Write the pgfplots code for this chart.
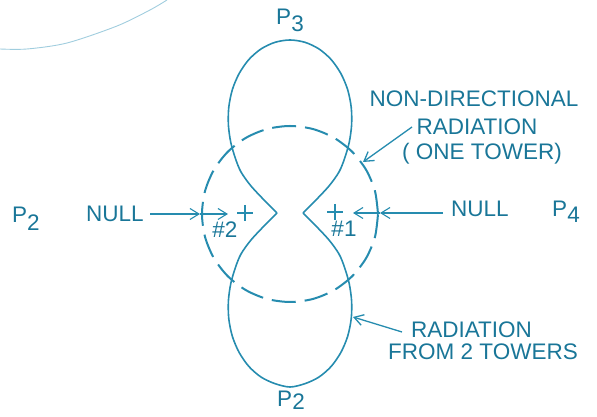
\documentclass[border=0pt]{standalone}
\usepackage{pgfplots}
\pgfplotsset{compat=1.18}
\usetikzlibrary{arrows.meta}
\usepackage{fontspec}
\setmainfont{Liberation Sans}
\definecolor{ln}{RGB}{38,140,175}
\definecolor{tx}{RGB}{25,118,152}
\definecolor{faint}{RGB}{160,205,222}
\tikzset{lbl/.style={text=tx, anchor=base, inner sep=0pt, font=\fontsize{22.5}{24}\selectfont}}
\begin{document}
\begin{tikzpicture}
\begin{axis}[scale only axis, width=597pt, height=417pt,
  xmin=-290, xmax=307, ymin=-204, ymax=213, hide axis, clip=false]
\coordinate (bl) at (axis cs:-290,-204);
\coordinate (tr) at (axis cs:307,213);
% faint arc top-left
\addplot[faint, line width=0.9pt, smooth] coordinates {(-290,164) (-263,164) (-223,170) (-173,187) (-140,203) (-123,213)};
% dashed circle: non-directional radiation
\addplot[ln, line width=2pt, smooth, dash pattern=on 24pt off 9pt] coordinates {
(88,-1) (85,21.8) (76.2,43) (62.2,61.2) (44,75.2) (22.8,84) (0,87) (-22.8,84) (-44,75.2) (-62.2,61.2) (-76.2,43) (-85,21.8) (-88,-1) (-85,-23.8) (-76.2,-45) (-62.2,-63.2) (-44,-77.2) (-22.8,-86) (0,-89) (22.8,-86) (44,-77.2) (62.2,-63.2) (76.2,-45) (85,-23.8) (88,-1)};
% upper lobe
\addplot[ln, line width=1.6pt, smooth] coordinates {
(13,0) (25,12) (39,27) (49,41) (54.5,54.3) (59.2,70.5) (61.6,88) (61.2,105.9) (57.6,123.5) (50.8,139.6) (41.1,153.5) (28.9,164.1) (14.9,170.7) (0,173)
(-14.9,170.7) (-28.9,164.1) (-41.1,153.5) (-50.8,139.6) (-57.6,123.5) (-61.2,105.9) (-61.6,88) (-59.2,70.5) (-54.5,54.3) (-49,41) (-39,27) (-25,12) (-13,0)};
% lower lobe
\addplot[ln, line width=1.6pt, smooth] coordinates {
(-13,0) (-25,-12) (-39,-27) (-49,-41) (-54.5,-54.3) (-59.2,-70.5) (-61.6,-88) (-61.2,-105.9) (-57.6,-123.5) (-50.8,-139.6) (-41.1,-153.5) (-28.9,-164.1) (-14.9,-170.7) (0,-174)
(14.9,-170.7) (28.9,-164.1) (41.1,-153.5) (50.8,-139.6) (57.6,-123.5) (61.2,-105.9) (61.6,-88) (59.2,-70.5) (54.5,-54.3) (49,-41) (39,-27) (25,-12) (13,0)};
% tower marks
\addplot[ln, only marks, mark=+, mark size=8pt, line width=1.4pt] coordinates {(-45,0) (45,1)};
% null arrows
\addplot[ln, line width=1.1pt, -{Straight Barb[length=9pt,width=11pt]}] coordinates {(-140,-1) (-90,-1)};
\addplot[ln, line width=1.1pt, -{Straight Barb[length=9pt,width=11pt]}] coordinates {(-90,-1) (-62,-1)};
\addplot[ln, line width=1.1pt, -{Straight Barb[length=9pt,width=11pt]}] coordinates {(153,0) (90,0)};
\addplot[ln, line width=1.1pt, -{Straight Barb[length=9pt,width=11pt]}] coordinates {(90,0) (63,0)};
% label arrows
\addplot[ln, line width=1.3pt, -{Straight Barb[length=9pt,width=11pt]}] coordinates {(122,86) (73,51)};
\addplot[ln, line width=1.3pt, -{Straight Barb[length=9pt,width=11pt]}] coordinates {(112,-119) (63,-104)};
% texts
\node[lbl] at (axis cs:0,188) {P\raisebox{-7pt}{3}};
\node[lbl] at (axis cs:1,-194) {P\raisebox{-3pt}{2}};
\node[lbl] at (axis cs:-264,-10) {P\raisebox{-8pt}{2}};
\node[lbl] at (axis cs:276,-4) {P\raisebox{-6pt}{4}};
\node[lbl] at (axis cs:-175,-9) {NULL};
\node[lbl] at (axis cs:190,-4) {NULL};
\node[lbl] at (axis cs:-65,-25) {\#2};
\node[lbl] at (axis cs:54,-24) {\#1};
\node[lbl] at (axis cs:184,106) {NON-DIRECTIONAL};
\node[lbl] at (axis cs:187,78) {RADIATION};
\node[lbl] at (axis cs:192,53) {( ONE TOWER)};
\node[lbl] at (axis cs:181.5,-125) {RADIATION};
\node[lbl] at (axis cs:193,-147) {FROM 2 TOWERS};
\end{axis}
\pgfresetboundingbox
\path (bl) rectangle (tr);
\end{tikzpicture}
\end{document}
